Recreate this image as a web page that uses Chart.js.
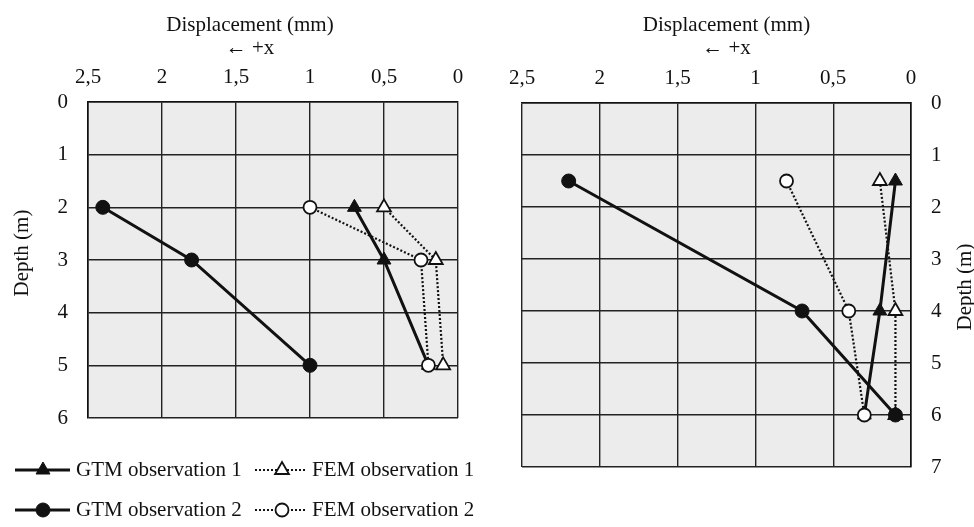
<!DOCTYPE html>
<html>
<head>
<meta charset="utf-8">
<script src="https://cdn.jsdelivr.net/npm/chart.js@4.4.1/dist/chart.umd.min.js"></script>
<style>
body { margin: 0; background: #fff; }
#left { position: absolute; left: 0; top: 0; }
#right { position: absolute; left: 490px; top: 0; }
</style>
</head>
<body>
<canvas id="left" width="490" height="527"></canvas>
<canvas id="right" width="484" height="527"></canvas>
<script>
// left profile
var depthL = [2, 3, 5];
var gtm1L = [0.7, 0.5, 0.2];
var fem1L = [0.5, 0.15, 0.1];
var gtm2L = [2.4, 1.8, 1.0];
var fem2L = [1.0, 0.25, 0.2];

// right profile
var depthR = [1.5, 4, 6];
var gtm1R = [0.1, 0.2, 0.3];
var fem1R = [0.2, 0.1, 0.1];
var gtm2R = [2.2, 0.7, 0.1];
var fem2R = [0.8, 0.4, 0.3];

var labels = ['GTM observation 1', 'FEM observation 1', 'GTM observation 2', 'FEM observation 2'];
var xTitle = ['Displacement (mm)', '\u2190 +x'];
var yTitle = 'Depth (m)';

var FONT = '21px "Liberation Serif", "Times New Roman", serif';
var INK = '#111';

function pts(xs, ys) {
  return xs.map(function (v, i) { return { x: v, y: ys[i] }; });
}

function makeSets(g1, f1, g2, f2, d) {
  return [{
    label: labels[0], data: pts(g1, d), showLine: true, order: 2,
    borderColor: INK, borderWidth: 3,
    pointStyle: 'triangle', pointRadius: 8,
    pointBackgroundColor: INK, pointBorderColor: INK, pointBorderWidth: 1
  }, {
    label: labels[1], data: pts(f1, d), showLine: true, order: 3,
    borderColor: INK, borderWidth: 2.2, borderDash: [2, 2],
    pointStyle: 'triangle', pointRadius: 8,
    pointBackgroundColor: '#fff', pointBorderColor: INK, pointBorderWidth: 1.8
  }, {
    label: labels[2], data: pts(g2, d), showLine: true, order: 1,
    borderColor: INK, borderWidth: 3,
    pointStyle: 'circle', pointRadius: 7,
    pointBackgroundColor: INK, pointBorderColor: INK, pointBorderWidth: 1
  }, {
    label: labels[3], data: pts(f2, d), showLine: true, order: 0,
    borderColor: INK, borderWidth: 2.2, borderDash: [2, 2],
    pointStyle: 'circle', pointRadius: 6.5,
    pointBackgroundColor: '#fff', pointBorderColor: INK, pointBorderWidth: 1.8
  }];
}

var bgPlugin = {
  id: 'plotBg',
  beforeDraw: function (chart) {
    var a = chart.chartArea, ctx = chart.ctx;
    ctx.save();
    ctx.fillStyle = '#ececec';
    ctx.fillRect(a.left, a.top, a.right - a.left, a.bottom - a.top);
    ctx.restore();
  }
};

var textPlugin = {
  id: 'axisText',
  afterDraw: function (chart, args, opts) {
    var a = chart.chartArea, ctx = chart.ctx;
    ctx.save();
    ctx.fillStyle = INK;
    ctx.font = FONT;
    ctx.textAlign = 'center';
    ctx.textBaseline = 'middle';
    opts.items.forEach(function (it) {
      var x = it.x != null ? it.x : (a.left + a.right) / 2 + (it.dx || 0);
      var y = it.y != null ? it.y : (a.top + a.bottom) / 2 + (it.dy || 0);
      ctx.save();
      ctx.translate(x, y);
      if (it.rot) ctx.rotate(it.rot);
      ctx.fillText(it.text, 0, 0);
      ctx.restore();
    });
    ctx.restore();
  }
};

var legendPlugin = {
  id: 'lineLegend',
  afterDraw: function (chart, args, opts) {
    if (!opts.rows) return;
    var ctx = chart.ctx;
    opts.rows.forEach(function (row, r) {
      row.forEach(function (idx, c) {
        var ds = chart.data.datasets[idx];
        var col = opts.cols[c], y = opts.rowY[r];
        ctx.save();
        ctx.strokeStyle = ds.borderColor;
        ctx.lineWidth = ds.borderWidth;
        ctx.setLineDash(ds.borderDash || []);
        ctx.beginPath();
        ctx.moveTo(col.x, y);
        ctx.lineTo(col.x + col.len, y);
        ctx.stroke();
        ctx.setLineDash([]);
        ctx.fillStyle = ds.pointBackgroundColor;
        ctx.strokeStyle = ds.pointBorderColor;
        ctx.lineWidth = ds.pointBorderWidth;
        Chart.helpers.drawPoint(ctx, {
          pointStyle: ds.pointStyle, radius: ds.pointRadius, rotation: 0,
          borderWidth: ds.pointBorderWidth
        }, col.x + col.mark, y);
        ctx.fillStyle = INK;
        ctx.font = FONT;
        ctx.textAlign = 'left';
        ctx.textBaseline = 'middle';
        ctx.fillText(ds.label, col.text, y);
        ctx.restore();
      });
    });
  }
};

function comma(v) { return String(v).replace('.', ','); }

function makeChart(id, sets, yMax, yPos, xH, yW, pad, texts, legend) {
  return new Chart(document.getElementById(id), {
    type: 'scatter',
    data: { datasets: sets },
    plugins: [bgPlugin, textPlugin, legendPlugin],
    options: {
      responsive: false,
      animation: false,
      events: [],
      layout: { padding: pad },
      plugins: {
        legend: { display: false },
        tooltip: { enabled: false },
        axisText: { items: texts },
        lineLegend: legend || {}
      },
      scales: {
        x: {
          type: 'linear', position: 'top', reverse: true,
          min: 0, max: 2.5,
          afterFit: function (s) { s.height = xH; },
          ticks: {
            stepSize: 0.5, padding: 12, color: INK,
            font: { family: '"Liberation Serif"', size: 21 },
            callback: function (v) { return comma(v); }
          },
          grid: { color: '#222', lineWidth: 1.4, drawTicks: false },
          border: { display: true, color: INK, width: 1.6 }
        },
        y: {
          type: 'linear', position: yPos, reverse: true,
          min: 0, max: yMax,
          afterFit: function (s) { s.width = yW; },
          ticks: {
            stepSize: 1, padding: 20, color: INK,
            font: { family: '"Liberation Serif"', size: 21 }
          },
          grid: { color: '#222', lineWidth: 1.4, drawTicks: false },
          border: { display: true, color: INK, width: 1.6 }
        }
      }
    }
  });
}

makeChart('left', makeSets(gtm1L, fem1L, gtm2L, fem2L, depthL), 6, 'left', 102, 88,
  { left: 0, right: 32, top: 0, bottom: 109 },
  [
    { text: xTitle[0], dx: -23, y: 25 },
    { text: xTitle[1], dx: -23, y: 48 },
    { text: yTitle, x: 22, dy: -7, rot: -Math.PI / 2 }
  ],
  {
    rows: [[0, 1], [2, 3]],
    rowY: [470, 510],
    cols: [{ x: 15, len: 55, mark: 28, text: 76 }, { x: 255, len: 52, mark: 27, text: 312 }]
  });

makeChart('right', makeSets(gtm1R, fem1R, gtm2R, fem2R, depthR), 7, 'right', 103, 63,
  { left: 32, right: 0, top: 0, bottom: 60 },
  [
    { text: xTitle[0], dx: 10, y: 25 },
    { text: xTitle[1], dx: 10, y: 48 },
    { text: yTitle, x: 475, dy: 2, rot: -Math.PI / 2 }
  ]);
</script>
</body>
</html>
